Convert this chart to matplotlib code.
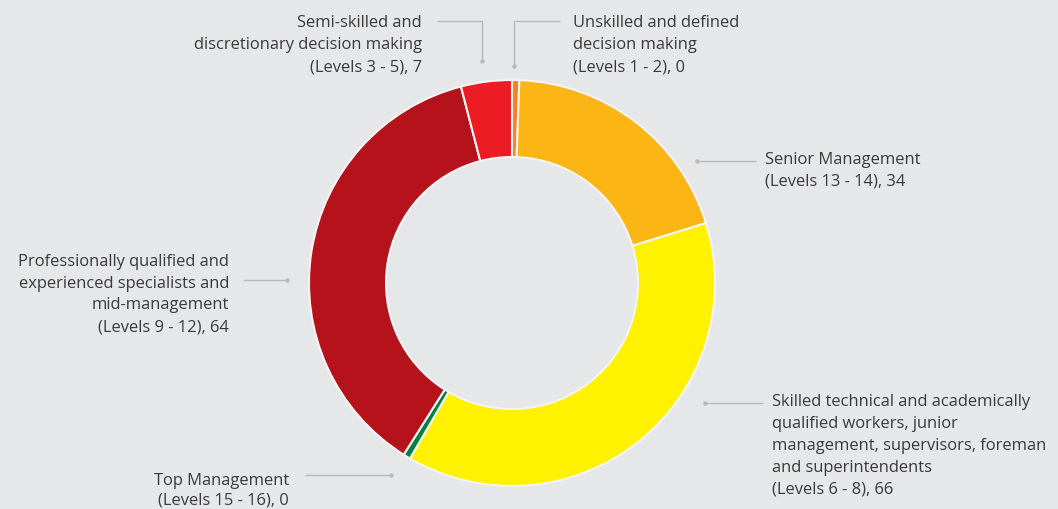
import matplotlib
matplotlib.use("Agg")
import matplotlib.pyplot as plt
import numpy as np

W, H = 1058, 510
BG = "#e6e7e8"

categories = [
    "Unskilled and defined decision making (Levels 1 - 2)",
    "Senior Management (Levels 13 - 14)",
    "Skilled technical and academically qualified workers, junior management, supervisors, foreman and superintendents (Levels 6 - 8)",
    "Top Management (Levels 15 - 16)",
    "Professionally qualified and experienced specialists and mid-management (Levels 9 - 12)",
    "Semi-skilled and discretionary decision making (Levels 3 - 5)",
]
values = [0, 34, 66, 0, 64, 7]
colors = ["#f58220", "#fbb615", "#fff200", "#00843d", "#b5121b", "#ed1c24"]

label_lines = [
    ["Unskilled and defined", "decision making", "(Levels 1 - 2), 0"],
    ["Senior Management", "(Levels 13 - 14), 34"],
    ["Skilled technical and academically", "qualified workers, junior",
     "management, supervisors, foreman", "and superintendents", "(Levels 6 - 8), 66"],
    ["Top Management", "(Levels 15 - 16), 0"],
    ["Professionally qualified and", "experienced specialists and",
     "mid-management", "(Levels 9 - 12), 64"],
    ["Semi-skilled and", "discretionary decision making", "(Levels 3 - 5), 7"],
]

fig = plt.figure(figsize=(W / 100, H / 100), dpi=100, facecolor=BG)
ax = fig.add_axes([0, 0, 1, 1])
ax.set_facecolor(BG)

def Y(y):
    return H - y

cx, cy, R = 512, 284, 203
ring = 77
disp = np.maximum(np.array(values, dtype=float), 1.0)
ax.pie(disp, colors=colors, startangle=90, counterclock=False,
       center=(cx, Y(cy)), radius=R, frame=True,
       wedgeprops=dict(width=ring, edgecolor="#f4f4f4", linewidth=1.5))
ax.set_xlim(0, W)
ax.set_ylim(0, H)
ax.set_aspect("auto")
ax.axis("off")

LC = "#b9b9b9"
TC = "#3a3a3a"
FS = 11.9
FAM = "Open Sans"

def leader(pts, dot):
    xs = [p[0] for p in pts]
    ys = [Y(p[1]) for p in pts]
    ax.plot(xs, ys, color=LC, lw=1.0, solid_capstyle="butt")
    ax.plot([dot[0]], [Y(dot[1])], "o", color=LC, ms=3.2, mec="none")

def label(lines, x, y0, ha, step=22):
    for i, t in enumerate(lines):
        ax.text(x, Y(y0 + i * step), t, ha=ha, va="center",
                fontsize=FS, color=TC, family=FAM)

# Unskilled
leader([(560, 22), (514, 22), (514, 67)], (514, 67))
label(label_lines[0], 573, 23, "left")
# Senior
leader([(697, 162), (756, 162)], (697, 162))
label(label_lines[1], 765, 160, "left")
# Skilled
leader([(705, 404), (763, 404)], (705, 404))
label(label_lines[2], 772, 402, "left")
# Top
leader([(305, 476), (391, 476)], (391, 476))
label(label_lines[3], 289, 481, "right", step=20)
# Professional
leader([(243, 281), (287, 281)], (287, 281))
label(label_lines[4], 229, 262, "right", step=21.7)
# Semi-skilled
leader([(437, 22), (482, 22), (482, 62)], (482, 62))
label(label_lines[5], 422, 23, "right")

fig.savefig("out.png", dpi=100, facecolor=BG)
